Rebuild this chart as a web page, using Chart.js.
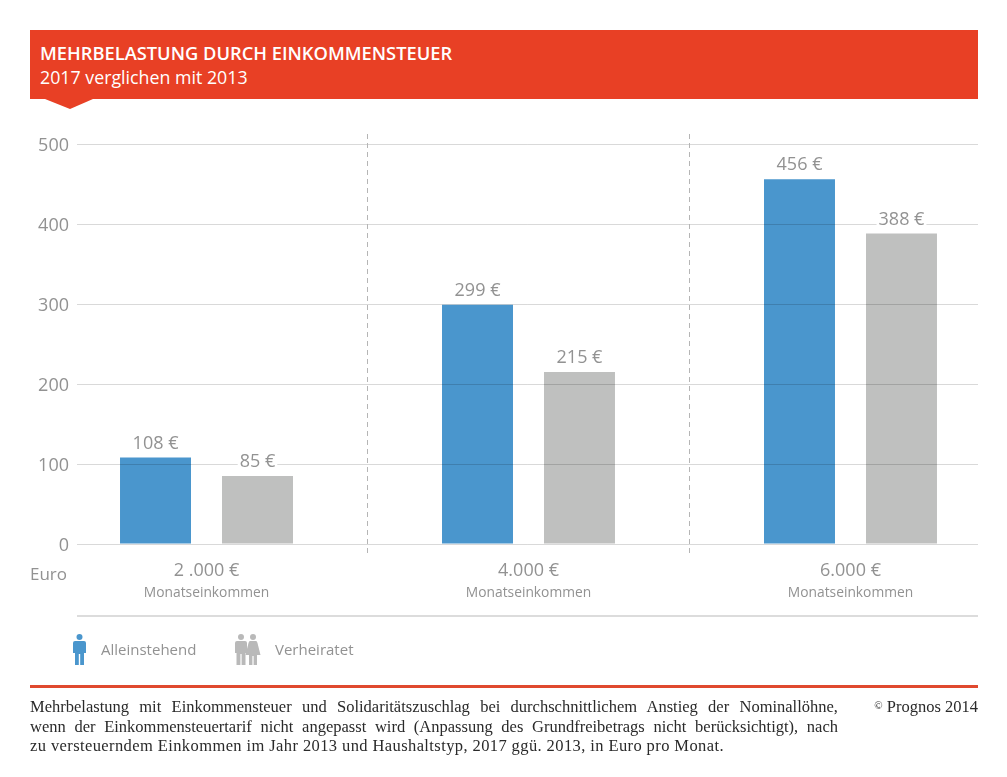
<!DOCTYPE html>
<html lang="de">
<head>
<meta charset="utf-8">
<title>Mehrbelastung durch Einkommensteuer</title>
<script src="https://cdn.jsdelivr.net/npm/chart.js@4"></script>
<style>
html, body { margin: 0; padding: 0; background: #fff; }
#page { position: relative; width: 1007px; height: 777px; overflow: hidden; font-family: "Open Sans", sans-serif; }
#myChart { position: absolute; left: 0; top: 0; }
.abs { position: absolute; white-space: nowrap; }
#head { position: absolute; left: 30px; top: 30px; width: 948px; height: 69px; background: #e84025; }
#notch { position: absolute; left: 45px; top: 99px; }
#title { left: 40px; top: 40px; font-size: 18.3px; font-weight: 600; line-height: 26px; color: #fff; }
#sub { left: 40px; top: 64px; font-size: 17.8px; line-height: 26px; color: #fff; }
.grey { color: #929292; }
#euro { left: 30px; top: 561px; font-size: 17px; line-height: 26px; }
#rule { position: absolute; left: 77px; top: 615px; width: 901px; height: 2px; background: #dcdcdc; }
.leg { top: 638px; font-size: 15px; line-height: 22px; }
#foot { position: absolute; left: 30px; top: 685px; width: 948px; height: 3px; background: #e0492f; }
.note { left: 30px; width: 808px; font-family: "Liberation Serif", serif; font-size: 16.5px; line-height: 20px; color: #2a2a2a; white-space: nowrap; text-align: justify; text-align-last: justify; }
#copy { right: 29px; top: 697px; font-family: "Liberation Serif", serif; font-size: 16.5px; line-height: 20px; color: #2a2a2a; }
#copy span { font-size: 11px; position: relative; top: -3px; }
</style>
</head>
<body>
<div id="page">
  <canvas id="myChart" width="1007" height="777"></canvas>
  <div id="head"></div>
  <svg id="notch" width="50" height="11"><path d="M0 0 L48 0 L25 10 Z" fill="#e84025"/></svg>
  <div class="abs" id="title">MEHRBELASTUNG DURCH EINKOMMENSTEUER</div>
  <div class="abs" id="sub">2017 verglichen mit 2013</div>
  <div class="abs grey" id="euro">Euro</div>
  <div id="rule"></div>
  <svg class="abs" style="left:73px;top:634px" width="14" height="31">
    <g fill="#4a96cd"><circle cx="6.5" cy="3" r="3"/><path d="M0 9 Q0 7 2 7 L11 7 Q13 7 13 9 L13 19 L11 19 L11 31 L7.2 31 L7.2 20 L5.8 20 L5.8 31 L2 31 L2 19 L0 19 Z"/></g>
  </svg>
  <div class="abs grey leg" style="left:101px">Alleinstehend</div>
  <svg class="abs" style="left:235px;top:634px" width="26" height="31">
    <g fill="#b9b9b9"><circle cx="6" cy="3" r="3"/><path d="M0 9 Q0 7 2 7 L10 7 Q12 7 12 9 L12 19 L10.5 19 L10.5 31 L6.6 31 L6.6 20 L5.4 20 L5.4 31 L1.5 31 L1.5 19 L0 19 Z"/><circle cx="18" cy="3" r="3"/><path d="M15 7 L21 7 Q22 7 22.5 9 L25.5 21 L22 21 L22 31 L18.6 31 L18.6 22 L17.4 22 L17.4 31 L14 31 L14 21 L10.5 21 L13.5 9 Q14 7 15 7 Z"/></g>
  </svg>
  <div class="abs grey leg" style="left:275px">Verheiratet</div>
  <div id="foot"></div>
  <div class="abs note" style="top:697px">Mehrbelastung mit Einkommensteuer und Solidaritätszuschlag bei durchschnittlichem Anstieg der Nominallöhne,</div>
  <div class="abs note" style="top:717px">wenn der Einkommensteuertarif nicht angepasst wird (Anpassung des Grundfreibetrags nicht berücksichtigt), nach</div>
  <div class="abs note" style="top:736px;text-align:left;text-align-last:left;letter-spacing:.4px">zu versteuerndem Einkommen im Jahr 2013 und Haushaltstyp, 2017 ggü. 2013, in Euro pro Monat.</div>
  <div class="abs" id="copy"><span>©</span> Prognos 2014</div>
</div>
<script>
var positions = [0, 1, 2];
var incomeLabels = ['2 .000 €', '4.000 €', '6.000 €'];
var incomeNote = 'Monatseinkommen';
var singleValues = [108, 299, 456];
var marriedValues = [85, 215, 388];
var yTicks = [0, 100, 200, 300, 400, 500];
var separators = [0.5, 1.5];

var textGrey = '#929292';
var fontName = '"Open Sans", sans-serif';

function toPoints(values) {
    var points = [];
    for (var i = 0; i < values.length; i++) {
        points.push({ x: positions[i], y: values[i] });
    }
    return points;
}

function fixTicks(axis) {
    axis.ticks = positions.map(function (p) { return { value: p }; });
}

// dashed separators between the income groups, under the value labels
var separatorPlugin = {
    id: 'separators',
    afterDraw: function (chart) {
        var ctx = chart.ctx;
        var area = chart.chartArea;
        ctx.save();
        ctx.strokeStyle = '#b5b5b5';
        ctx.lineWidth = 1;
        ctx.setLineDash([5, 4]);
        separators.forEach(function (s) {
            var x = Math.floor(chart.scales.x.getPixelForValue(s)) + 0.5;
            ctx.beginPath();
            ctx.moveTo(x, area.top - 10);
            ctx.lineTo(x, area.bottom + 11);
            ctx.stroke();
        });
        ctx.restore();
    }
};

// value labels above bars, with a small white patch that hides the grid line
var valueLabelPlugin = {
    id: 'valueLabels',
    afterDraw: function (chart) {
        var ctx = chart.ctx;
        ctx.save();
        ctx.font = '18px ' + fontName;
        ctx.textAlign = 'center';
        ctx.textBaseline = 'middle';
        chart.data.datasets.forEach(function (ds, d) {
            chart.getDatasetMeta(d).data.forEach(function (bar, i) {
                var text = ds.data[i].y + ' €';
                var w = ctx.measureText(text).width;
                ctx.fillStyle = '#fff';
                ctx.fillRect(bar.x - w / 2 - 2, bar.y - 23, w + 4, 18);
                ctx.fillStyle = textGrey;
                ctx.fillText(text, bar.x, bar.y - 14);
            });
        });
        ctx.restore();
    }
};

new Chart(document.getElementById('myChart').getContext('2d'), {
    type: 'bar',
    data: {
        datasets: [
            { label: 'Alleinstehend', data: toPoints(singleValues), backgroundColor: '#4a96cd' },
            { label: 'Verheiratet', data: toPoints(marriedValues), backgroundColor: '#bfc0bf' }
        ]
    },
    plugins: [separatorPlugin, valueLabelPlugin],
    options: {
        responsive: false,
        animation: false,
        categoryPercentage: 0.6335,
        barPercentage: 0.696,
        layout: { padding: { top: 144, right: 29, left: 0, bottom: 0 } },
        plugins: { legend: { display: false }, tooltip: { enabled: false } },
        scales: {
            x: {
                type: 'linear',
                offset: false,
                min: -0.4022,
                max: 2.3960,
                grid: { display: false },
                border: { display: false },
                afterBuildTicks: fixTicks,
                afterFit: function (axis) { axis.height = 33; },
                ticks: {
                    autoSkip: false,
                    maxRotation: 0,
                    padding: 8,
                    color: textGrey,
                    font: { family: fontName, size: 18 },
                    callback: function (v) { return incomeLabels[v]; }
                }
            },
            x2: {
                type: 'linear',
                axis: 'x',
                position: 'bottom',
                offset: false,
                min: -0.4022,
                max: 2.3960,
                grid: { display: false },
                border: { display: false },
                afterBuildTicks: fixTicks,
                afterFit: function (axis) { axis.height = 200; },
                ticks: {
                    autoSkip: false,
                    maxRotation: 0,
                    padding: 0,
                    color: textGrey,
                    font: { family: fontName, size: 13.8 },
                    callback: function () { return incomeNote; }
                }
            },
            y: {
                min: 0,
                max: 500,
                afterBuildTicks: function (axis) {
                    axis.ticks = yTicks.map(function (v) { return { value: v }; });
                },
                afterFit: function (axis) { axis.width = 77; },
                border: { display: false },
                grid: { color: 'rgba(0,0,0,0.15)', lineWidth: 1, drawTicks: false, z: 1 },
                ticks: {
                    padding: 8,
                    labelOffset: 2,
                    color: textGrey,
                    font: { family: fontName, size: 18 }
                }
            }
        }
    }
});
</script>
</body>
</html>
